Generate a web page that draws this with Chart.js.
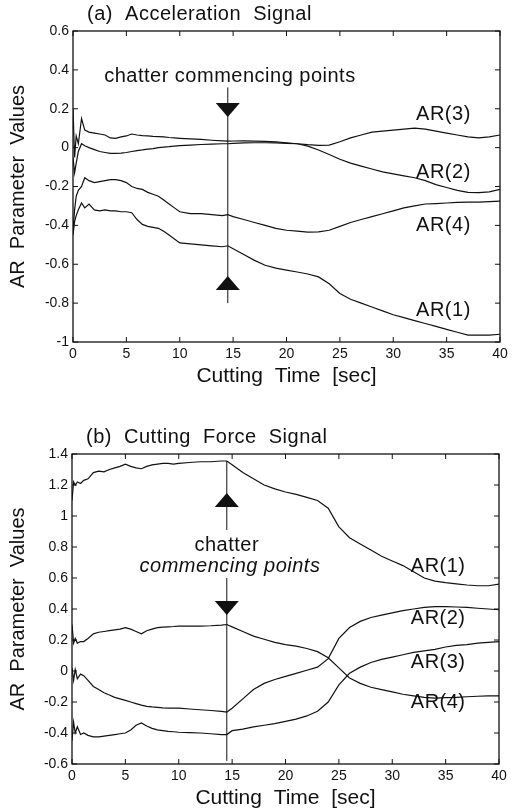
<!DOCTYPE html>
<html>
<head>
<meta charset="utf-8">
<script src="https://cdn.jsdelivr.net/npm/chart.js@4"></script>
<style>
html, body { margin: 0; padding: 0; background: #fff; }
#wrap { position: relative; width: 514px; height: 812px; }
canvas { position: absolute; left: 0; }
#accel { top: 0; }
#force { top: 400px; }
</style>
</head>
<body>
<div id="wrap">
<canvas id="accel" width="514" height="400"></canvas>
<canvas id="force" width="514" height="412"></canvas>
</div>
<script>
// values (time in sec)
const cuttingTime = [0, 0.15, 0.3, 0.5, 0.8, 1.1, 1.5, 2, 2.5, 3, 3.5, 4, 4.5, 5, 5.5, 6, 6.5, 7, 7.5, 8, 8.5, 9, 9.5, 10,
  11, 12, 13, 14, 14.5, 15, 16, 17, 18, 19, 20, 21, 22, 23, 24, 25, 26, 27, 28, 29, 30, 31, 32, 33, 34, 35, 36, 37, 38, 39, 40]

const seriesNames = ['AR(1)', 'AR(2)', 'AR(3)', 'AR(4)']

// (a) acceleration signal
const accelAR1 = [-0.45, -0.38, -0.35, -0.32, -0.285, -0.31, -0.29, -0.32, -0.325, -0.32, -0.325, -0.325, -0.33, -0.33, -0.335, -0.37, -0.395, -0.405, -0.41, -0.415, -0.43, -0.45, -0.47, -0.49,
  -0.495, -0.5, -0.505, -0.51, -0.505, -0.52, -0.55, -0.58, -0.605, -0.62, -0.63, -0.64, -0.65, -0.665, -0.7, -0.75, -0.78, -0.8, -0.82, -0.84, -0.86, -0.875, -0.89, -0.905, -0.92, -0.935, -0.95, -0.965, -0.965, -0.965, -0.96]
const accelAR2 = [-0.05, -0.13, -0.08, -0.02, 0.02, 0.01, 0, -0.01, -0.02, -0.025, -0.03, -0.03, -0.028, -0.025, -0.02, -0.015, -0.012, -0.008, -0.005, 0, 0.003, 0.005, 0.008, 0.01,
  0.013, 0.016, 0.018, 0.02, 0.02, 0.022, 0.024, 0.025, 0.025, 0.024, 0.022, 0.02, 0.008, -0.012, -0.035, -0.06, -0.08, -0.095, -0.11, -0.125, -0.135, -0.145, -0.155, -0.17, -0.19, -0.205, -0.22, -0.23, -0.232, -0.228, -0.215]
const accelAR3 = [0.2, -0.05, 0.06, 0.02, 0.15, 0.09, 0.08, 0.075, 0.07, 0.065, 0.05, 0.048, 0.055, 0.06, 0.07, 0.065, 0.062, 0.06, 0.058, 0.057, 0.055, 0.052, 0.05, 0.048,
  0.045, 0.042, 0.038, 0.035, 0.033, 0.034, 0.035, 0.033, 0.032, 0.03, 0.025, 0.02, 0.015, 0.012, 0.013, 0.03, 0.05, 0.065, 0.08, 0.085, 0.09, 0.095, 0.1, 0.095, 0.085, 0.075, 0.065, 0.055, 0.05, 0.055, 0.065]
const accelAR4 = [-0.43, -0.32, -0.25, -0.22, -0.2, -0.155, -0.17, -0.18, -0.175, -0.17, -0.165, -0.165, -0.17, -0.18, -0.2, -0.21, -0.215, -0.23, -0.24, -0.25, -0.27, -0.29, -0.31, -0.33,
  -0.34, -0.34, -0.345, -0.35, -0.345, -0.355, -0.37, -0.385, -0.4, -0.415, -0.425, -0.43, -0.435, -0.433, -0.425, -0.405, -0.385, -0.37, -0.355, -0.34, -0.325, -0.31, -0.3, -0.29, -0.288, -0.285, -0.282, -0.28, -0.28, -0.278, -0.275]

// (b) cutting force signal
const forceAR1 = [1.1, 1.22, 1.2, 1.22, 1.21, 1.23, 1.24, 1.28, 1.29, 1.285, 1.3, 1.31, 1.32, 1.335, 1.32, 1.31, 1.305, 1.32, 1.33, 1.335, 1.34, 1.34, 1.335, 1.34,
  1.345, 1.35, 1.35, 1.355, 1.355, 1.33, 1.28, 1.24, 1.2, 1.175, 1.155, 1.14, 1.12, 1.1, 1.05, 0.93, 0.86, 0.82, 0.78, 0.74, 0.71, 0.68, 0.64, 0.6, 0.58, 0.57, 0.562, 0.555, 0.55, 0.55, 0.56]
const forceAR2 = [0.02, -0.06, 0.01, -0.05, -0.02, -0.03, -0.06, -0.1, -0.12, -0.14, -0.155, -0.17, -0.18, -0.19, -0.2, -0.21, -0.22, -0.228, -0.232, -0.235, -0.238, -0.24, -0.24, -0.24,
  -0.245, -0.25, -0.255, -0.26, -0.265, -0.24, -0.18, -0.12, -0.08, -0.055, -0.035, -0.015, 0.005, 0.025, 0.08, 0.21, 0.28, 0.32, 0.345, 0.36, 0.375, 0.39, 0.4, 0.41, 0.415, 0.415, 0.413, 0.41, 0.405, 0.4, 0.395]
const forceAR3 = [-0.45, -0.33, -0.4, -0.36, -0.41, -0.4, -0.415, -0.425, -0.425, -0.42, -0.415, -0.41, -0.405, -0.4, -0.38, -0.35, -0.335, -0.355, -0.37, -0.38, -0.385, -0.39, -0.392, -0.395,
  -0.398, -0.4, -0.405, -0.41, -0.41, -0.385, -0.375, -0.36, -0.35, -0.34, -0.325, -0.31, -0.29, -0.26, -0.2, -0.09, -0.015, 0.025, 0.055, 0.075, 0.09, 0.105, 0.12, 0.13, 0.14, 0.155, 0.165, 0.17, 0.18, 0.185, 0.19]
const forceAR4 = [0.3, 0.18, 0.21, 0.18, 0.19, 0.19, 0.21, 0.24, 0.25, 0.255, 0.26, 0.265, 0.27, 0.28, 0.27, 0.255, 0.24, 0.26, 0.27, 0.28, 0.283, 0.285, 0.287, 0.29,
  0.29, 0.29, 0.292, 0.296, 0.3, 0.285, 0.255, 0.225, 0.205, 0.185, 0.17, 0.16, 0.145, 0.125, 0.085, 0.02, -0.045, -0.08, -0.105, -0.12, -0.135, -0.15, -0.16, -0.17, -0.175, -0.172, -0.17, -0.166, -0.163, -0.16, -0.16]

const xTickValues = [0, 5, 10, 15, 20, 25, 30, 35, 40]
const accelYTicks = [-1, -0.8, -0.6, -0.4, -0.2, 0, 0.2, 0.4, 0.6]
const forceYTicks = [-0.6, -0.4, -0.2, 0, 0.2, 0.4, 0.6, 0.8, 1, 1.2, 1.4]

const chatterTime = 14.5

// annotations in data units: [text, time, value]
const accelLabels = [['AR(3)', 34.7, 0.168], ['AR(2)', 34.7, -0.13], ['AR(4)', 34.7, -0.398], ['AR(1)', 34.7, -0.84]]
const forceLabels = [['AR(1)', 34.3, 0.677], ['AR(2)', 34.3, 0.342], ['AR(3)', 34.3, 0.052], ['AR(4)', 34.3, -0.206]]
const accelNotes = [['chatter commencing points', 14.7, 0.368, 'normal']]
const forceNotes = [['chatter', 14.5, 0.813, 'normal'], ['commencing points', 14.8, 0.677, 'italic']]
const accelMarkLines = [[0.31, -0.8]]
const forceMarkLines = [[1.355, 0.91], [0.6, -0.58]]
// arrow tips: [value, direction]
const accelArrows = [[0.157, 'down'], [-0.66, 'up']]
const forceArrows = [[1.148, 'up'], [0.361, 'down']]

const FONT = "'Liberation Sans', Arial, Helvetica, sans-serif"

const markers = {
    id: 'markers',
    afterDatasetsDraw(chart, args, opts) {
        const {ctx, chartArea: a, scales: {x, y}} = chart
        ctx.save()
        ctx.strokeStyle = '#111'
        ctx.fillStyle = '#111'

        // frame and inward ticks
        ctx.lineWidth = 1.3
        ctx.strokeRect(a.left, a.top, a.right - a.left, a.bottom - a.top)
        ctx.lineWidth = 1
        ctx.beginPath()
        const tl = 5
        x.ticks.forEach(t => {
            const px = x.getPixelForValue(t.value)
            ctx.moveTo(px, a.bottom); ctx.lineTo(px, a.bottom - tl)
            ctx.moveTo(px, a.top); ctx.lineTo(px, a.top + tl)
        })
        y.ticks.forEach(t => {
            const py = y.getPixelForValue(t.value)
            ctx.moveTo(a.left, py); ctx.lineTo(a.left + tl, py)
            ctx.moveTo(a.right, py); ctx.lineTo(a.right - tl, py)
        })
        ctx.stroke()

        // chatter marker line
        const mx = x.getPixelForValue(opts.time)
        ctx.beginPath()
        opts.lines.forEach(([v0, v1]) => {
            ctx.moveTo(mx, y.getPixelForValue(v0))
            ctx.lineTo(mx, y.getPixelForValue(v1))
        })
        ctx.stroke()

        // arrow heads
        opts.arrows.forEach(([v, dir]) => {
            const tip = y.getPixelForValue(v)
            const h = dir === 'down' ? -14 : 14
            ctx.beginPath()
            ctx.moveTo(mx, tip)
            ctx.lineTo(mx - 12, tip + h)
            ctx.lineTo(mx + 12, tip + h)
            ctx.closePath()
            ctx.fill()
        })

        // text
        ctx.letterSpacing = '0.5px'
        ctx.textAlign = 'center'
        ctx.textBaseline = 'middle'
        opts.notes.forEach(([txt, t, v, style]) => {
            ctx.font = `${style} 20px ${FONT}`
            ctx.fillText(txt, x.getPixelForValue(t), y.getPixelForValue(v))
        })
        ctx.font = `20px ${FONT}`
        opts.labels.forEach(([txt, t, v]) => {
            ctx.fillText(txt, x.getPixelForValue(t), y.getPixelForValue(v))
        })
        ctx.textAlign = 'left'
        ctx.fillText(opts.title, a.left + 14, a.top - 17)
        ctx.restore()
    }
}

const makeChart = (id, series, yTicks, ann, box) => {
    const ctx = document.getElementById(id).getContext('2d')
    return new Chart(ctx, {
        type: 'line',
        data: {
            datasets: seriesNames.map((name, i) => ({
                label: name,
                data: cuttingTime.map((t, j) => ({x: t, y: series[i][j]})),
                borderColor: '#111',
                borderWidth: 1.2,
                pointRadius: 0,
                tension: 0,
                fill: false
            }))
        },
        options: {
            responsive: false,
            animation: false,
            devicePixelRatio: 1,
            layout: {padding: {top: box.top, right: box.right, left: 0, bottom: 0}},
            scales: {
                x: {
                    type: 'linear',
                    min: 0,
                    max: 40,
                    afterBuildTicks: s => { s.ticks = xTickValues.map(v => ({value: v})) },
                    afterFit: s => { s.height = box.xHeight },
                    grid: {display: false, drawTicks: false},
                    border: {display: false},
                    ticks: {color: '#111', padding: 4, maxRotation: 0, font: {size: 14, family: FONT}, callback: v => String(v)},
                    title: {display: true, text: 'Cutting  Time  [sec]', color: '#111', padding: {top: 0, bottom: box.xTitlePad}, font: {size: 21, family: FONT}}
                },
                y: {
                    type: 'linear',
                    min: yTicks[0],
                    max: yTicks[yTicks.length - 1],
                    afterBuildTicks: s => { s.ticks = yTicks.map(v => ({value: v})) },
                    afterFit: s => { s.width = box.yWidth },
                    grid: {display: false, drawTicks: false},
                    border: {display: false},
                    ticks: {color: '#111', padding: 4, font: {size: 14, family: FONT}, callback: v => String(v)},
                    title: {display: true, text: 'AR  Parameter  Values', color: '#111', padding: {top: 6, bottom: 0}, font: {size: 20, family: FONT}}
                }
            },
            plugins: {
                legend: {display: false},
                tooltip: {enabled: false},
                markers: ann
            }
        },
        plugins: [markers]
    })
}

makeChart('accel', [accelAR1, accelAR2, accelAR3, accelAR4], accelYTicks, {
    time: chatterTime, lines: accelMarkLines, arrows: accelArrows, notes: accelNotes, labels: accelLabels,
    title: '(a)  Acceleration  Signal'
}, {top: 31, right: 14, yWidth: 73, xHeight: 58, xTitlePad: 11})

makeChart('force', [forceAR1, forceAR2, forceAR3, forceAR4], forceYTicks, {
    time: chatterTime, lines: forceMarkLines, arrows: forceArrows, notes: forceNotes, labels: forceLabels,
    title: '(b)  Cutting  Force  Signal'
}, {top: 54, right: 15, yWidth: 72, xHeight: 48, xTitlePad: 1})
</script>
</body>
</html>
